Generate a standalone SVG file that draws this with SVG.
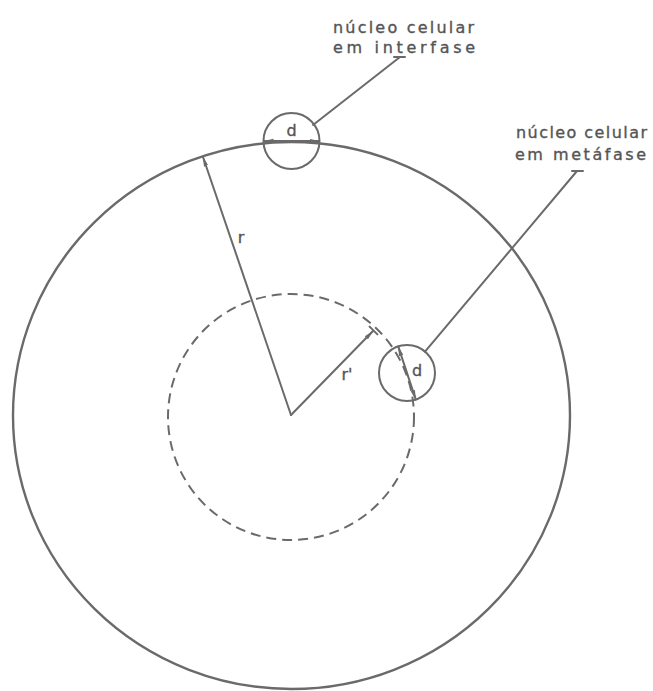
<svg xmlns="http://www.w3.org/2000/svg" width="653" height="691" viewBox="0 0 653 691">
  <style>
    .ln { fill: none; stroke: #6a6a6a; stroke-width: 2; stroke-linecap: round; }
    .thick { stroke-width: 2.4; }
    .dash { stroke-dasharray: 10 6; stroke-linecap: butt; }
    .lbl { font-family: "DejaVu Sans", "Liberation Sans", sans-serif; font-size: 16px; fill: #555; stroke: #555; stroke-width: 0.35; }
    .sym { font-family: "DejaVu Sans", "Liberation Sans", sans-serif; font-size: 16px; fill: #555; stroke: #555; stroke-width: 0.35; }
  </style>
  <defs>
    <marker id="arr" viewBox="0 0 10 6" refX="9.5" refY="3" markerWidth="10" markerHeight="6" markerUnits="userSpaceOnUse" orient="auto-start-reverse">
      <path d="M0,0.8 L10,3 L0,5.2 z" fill="#6a6a6a"/>
    </marker>
  </defs>
  <rect width="653" height="691" fill="#ffffff"/>

  <g id="cell">
    <ellipse class="ln thick" cx="291.5" cy="415.5" rx="278.5" ry="273.5"/>
  </g>
  <g id="inner-zone">
    <circle class="ln dash" cx="291" cy="417" r="123"/>
  </g>

  <g id="nucleus-interphase">
    <circle class="ln" cx="291.5" cy="141" r="28"/>
    <line class="ln" x1="264" y1="141" x2="319" y2="141" marker-start="url(#arr)" marker-end="url(#arr)"/>
    <text class="sym" x="291.5" y="136" text-anchor="middle">d</text>
  </g>

  <g id="nucleus-metaphase">
    <circle class="ln" cx="407" cy="373" r="28"/>
    <line class="ln" x1="398.2" y1="346.4" x2="415.8" y2="399.6" marker-start="url(#arr)" marker-end="url(#arr)"/>
    <text class="sym" x="417" y="376" text-anchor="middle">d</text>
  </g>

  <g id="label-interphase">
    <text class="lbl" x="333" y="32.5" textLength="141" lengthAdjust="spacing">núcleo celular</text>
    <text class="lbl" x="333" y="52.5" textLength="142" lengthAdjust="spacing">em interfase</text>
  </g>

  <g id="label-metaphase">
    <text class="lbl" x="516" y="138" textLength="131" lengthAdjust="spacing">núcleo celular</text>
    <text class="lbl" x="515" y="160" textLength="131" lengthAdjust="spacing">em metáfase</text>
  </g>

  <g id="connectors">
    <line class="ln" x1="291" y1="415" x2="203" y2="157" marker-end="url(#arr)"/>
    <text class="sym" x="241" y="243" text-anchor="middle">r</text>
    <line class="ln" x1="291" y1="415" x2="373" y2="331" marker-end="url(#arr)"/>
    <line class="ln" x1="369.6" y1="326.6" x2="377.4" y2="334.4"/>
    <text class="sym" x="347" y="380" text-anchor="middle">r'</text>
    <line class="ln" x1="313" y1="125" x2="400" y2="57"/>
    <line class="ln" x1="394" y1="57" x2="405" y2="57"/>
    <line class="ln" x1="425" y1="351.6" x2="577" y2="171"/>
    <line class="ln" x1="572" y1="171" x2="583" y2="171"/>
  </g>
</svg>
